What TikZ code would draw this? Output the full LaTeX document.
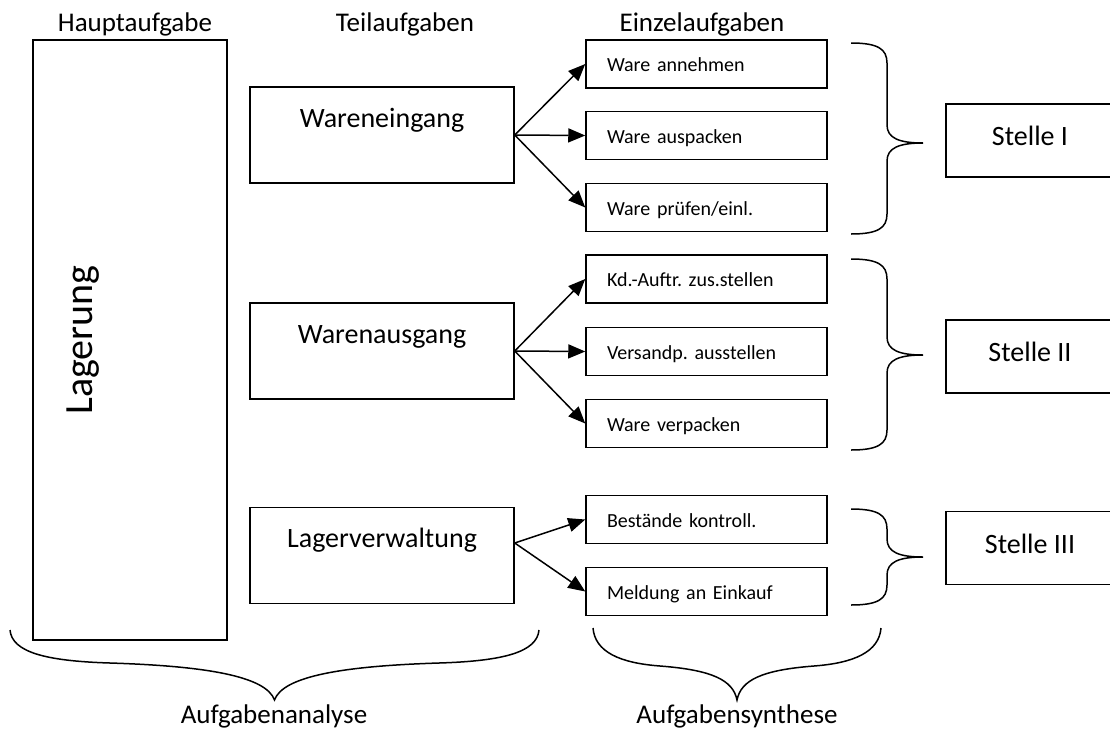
\documentclass[tikz,border=0pt]{standalone}
\usepackage{fontspec}
\setmainfont{Carlito}
\usetikzlibrary{arrows.meta,calc}
\frenchspacing
\newcommand\RBrace[3]{%
  \draw[bracestyle] (851,#1) .. controls (878,#1) and (887,{#1+6}) .. (887,{#1+20})
    -- (887,{#2-18}) .. controls (887,{#2-5}) and (899,#2) .. (923,#2)
    .. controls (899,#2) and (887,{#2+5}) .. (887,{#2+18})
    -- (887,{#3-20}) .. controls (887,{#3-6}) and (878,#3) .. (851,#3);}
\begin{document}
\begin{tikzpicture}[x=1pt,y=-1pt,
  box/.style={draw, line width=1.5pt, inner sep=0pt},
  hauptbox/.style={box, minimum width=194pt, minimum height=600pt},
  lagtext/.style={font=\fontsize{40}{48}\selectfont, inner sep=0pt},
  toplabel/.style={font=\fontsize{27}{32}\selectfont, inner sep=0pt},
  teilbox/.style={box, minimum width=264pt, minimum height=96pt,
    font=\fontsize{28}{34}\selectfont, text height=20pt, text depth=36pt},
  einzelbox/.style={box, minimum height=48pt, text width=199pt, align=left,
    inner xsep=21pt, font=\fontsize{20}{24}\selectfont, text height=16pt, text depth=1pt},
  stellebox/.style={box, minimum width=168pt, minimum height=73pt,
    font=\fontsize{28}{34}\selectfont, text height=18pt, text depth=8pt},
  arr/.style={-{Triangle[length=17pt,width=14pt]}, line width=1.5pt},
  bracestyle/.style={line width=1.5pt},
]
\fill[white] (0,0) rectangle (1110,731);
\useasboundingbox (0,0) rectangle (1110,731);

% column headings
\node[toplabel] (lh) at (135,24) {Hauptaufgabe};
\node[toplabel] (lt) at (405,24) {Teilaufgaben};
\node[toplabel] (le) at (702,24) {Einzelaufgaben};

% main task
\node[hauptbox] (haupt) at (130,340) {};
\node[lagtext, rotate=90] (lag) at (83,340) {Lagerung};

% sub tasks
\node[teilbox] (we) at (382,135) {Wareneingang};
\node[teilbox] (wa) at (382,351) {Warenausgang};
\node[teilbox] (lv) at (382,555.5) {Lagerverwaltung};

% single tasks
\node[einzelbox] (e1) at (706.5,64) {Ware annehmen};
\node[einzelbox] (e2) at (706.5,135.5) {Ware auspacken};
\node[einzelbox] (e3) at (706.5,207.5) {Ware prüfen/einl.};
\node[einzelbox] (e4) at (706.5,279) {Kd.-Auftr. zus.stellen};
\node[einzelbox] (e5) at (706.5,351.5) {Versandp. ausstellen};
\node[einzelbox] (e6) at (706.5,423.5) {Ware verpacken};
\node[einzelbox] (e7) at (706.5,519.5) {Bestände kontroll.};
\node[einzelbox] (e8) at (706.5,591.5) {Meldung an Einkauf};

% positions
\node[stellebox] (s1) at (1030,140.5) {Stelle I};
\node[stellebox] (s2) at (1030,356.5) {Stelle II};
\node[stellebox] (s3) at (1030,548) {Stelle III};

% arrows
\draw[arr] (we.east) -- (e1.west);
\draw[arr] (we.east) -- (e2.west);
\draw[arr] (we.east) -- (e3.west);
\draw[arr] (wa.east) -- (e4.west);
\draw[arr] (wa.east) -- (e5.west);
\draw[arr] (wa.east) -- (e6.west);
\coordinate (lvsrc) at ([yshift=12.5pt]lv.east);
\draw[arr] (lvsrc) -- (e7.west);
\draw[arr] (lvsrc) -- (e8.west);

% right braces
\RBrace{43}{143}{234}
\RBrace{259}{355}{450}
\RBrace{509}{557}{605}

% bottom braces
\draw[bracestyle] (10,630) .. controls (12,652) and (45,661) .. (110,663)
  .. controls (205,666) and (266,676) .. (274.5,700)
  .. controls (283,676) and (344,666) .. (439,663)
  .. controls (504,661) and (537,652) .. (539,630);
\draw[bracestyle] (593,628) .. controls (595,652) and (620,663) .. (660,666)
  .. controls (712,670) and (733,680) .. (737,700)
  .. controls (741,680) and (762,670) .. (814,666)
  .. controls (854,663) and (879,652) .. (881,628);

\node[toplabel] (la) at (274,716) {Aufgabenanalyse};
\node[toplabel] (ls) at (737,716) {Aufgabensynthese};
\end{tikzpicture}
\end{document}
